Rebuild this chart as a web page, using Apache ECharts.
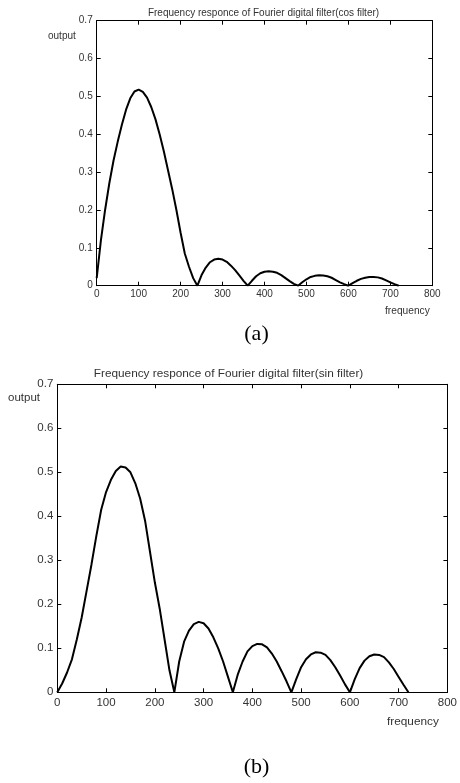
<!DOCTYPE html>
<html>
<head>
<meta charset="utf-8">
<script src="https://cdn.jsdelivr.net/npm/echarts@6/dist/echarts.min.js"></script>
<style>
html,body{margin:0;padding:0;background:#fff;}
#chart{width:460px;height:783px;}
</style>
</head>
<body>
<div id="chart"></div>
<script>
const freq = [0,10,20,30,40,50,60,70,80,90,100,110,120,130,140,150,160,170,180,190,200,210,220,230,240,
  250,260,270,280,290,300,310,320,330,340,350,360,370,380,390,400,410,420,430,440,450,460,470,480,
  490,500,510,520,530,540,550,560,570,580,590,600,610,620,630,640,650,660,670,680,690,700,710,720];

const cosOutput = [0.02,0.12,0.20,0.27,0.33,0.38,0.425,0.465,0.495,0.513,0.518,0.512,0.497,0.472,0.44,0.40,0.355,0.305,0.255,0.20,0.14,0.085,0.05,0.02,0,
  0.028,0.048,0.062,0.069,0.071,0.069,0.063,0.053,0.041,0.027,0.013,0,
  0.013,0.025,0.033,0.037,0.038,0.037,0.034,0.028,0.020,0.012,0.005,0,
  0.009,0.017,0.023,0.026,0.0275,0.027,0.025,0.021,0.015,0.009,0.004,0,
  0.007,0.013,0.018,0.021,0.023,0.023,0.022,0.019,0.014,0.009,0.004,0];

const sinOutput = [0,0.02,0.045,0.075,0.12,0.17,0.23,0.29,0.355,0.415,0.455,0.483,0.503,0.513,0.511,0.50,0.475,0.44,0.39,0.32,0.25,0.19,0.12,0.05,0,
  0.07,0.115,0.14,0.155,0.16,0.157,0.145,0.125,0.10,0.07,0.035,0,
  0.04,0.07,0.093,0.105,0.11,0.109,0.102,0.088,0.07,0.048,0.025,0,
  0.03,0.057,0.075,0.086,0.091,0.09,0.085,0.073,0.057,0.038,0.018,0,
  0.03,0.055,0.072,0.082,0.086,0.085,0.08,0.068,0.053,0.035,0.017,0];

const titles = ['Frequency responce of Fourier digital filter(cos filter)','Frequency responce of Fourier digital filter(sin filter)'];
const captions = ['(a)','(b)'];
const xName = 'frequency';
const yName = 'output';

const chart = echarts.init(document.getElementById('chart'));
const font = 'Liberation Sans, Arial, sans-serif';
const serif = 'Liberation Serif, Times New Roman, serif';
const lineCol = '#000';
const labelCol = '#333';

function axesFor(gridIndex, fs, xm) {
  const common = {
    gridIndex: gridIndex,
    axisLine: {show: true, onZero: false, lineStyle: {color: lineCol, width: 1}},
    axisTick: {show: true, inside: true, length: 4, lineStyle: {color: lineCol}},
    splitLine: {show: false}
  };
  const xs = [
    Object.assign({}, common, {type: 'value', position: 'bottom', min: 0, max: 800, interval: 100,
      axisLabel: {show: true, color: labelCol, fontFamily: font, fontSize: fs, margin: xm}}),
    Object.assign({}, common, {type: 'value', position: 'top', min: 0, max: 800, interval: 100,
      axisLabel: {show: false}})
  ];
  const ys = [
    Object.assign({}, common, {type: 'value', position: 'left', min: 0, max: 0.7, interval: 0.1,
      axisLabel: {show: true, color: labelCol, fontFamily: font, fontSize: fs, margin: 4}}),
    Object.assign({}, common, {type: 'value', position: 'right', min: 0, max: 0.7, interval: 0.1,
      axisLabel: {show: false}})
  ];
  return {xs, ys};
}
const a0 = axesFor(0, 10, 4);
const a1 = axesFor(1, 11.5, 5);

function txt(s, x, y, f, align, col) {
  return {type: 'text', x: x, y: y, style: {text: s, font: f, fill: col || labelCol,
    textAlign: align || 'left', textVerticalAlign: 'middle'}};
}

chart.setOption({
  animation: false,
  backgroundColor: '#fff',
  grid: [
    {left: 96.7, right: 27.7, top: 20.7, bottom: 497.3},
    {left: 57.3, right: 10, top: 384.3, bottom: 90.7}
  ],
  xAxis: [a0.xs[0], a0.xs[1], a1.xs[0], a1.xs[1]],
  yAxis: [a0.ys[0], a0.ys[1], a1.ys[0], a1.ys[1]],
  graphic: [
    txt(titles[0], 263.5, 13, '10px ' + font, 'center'),
    txt(titles[1], 228.5, 374, '11.8px ' + font, 'center'),
    txt(yName, 48, 36, '10px ' + font),
    txt(xName, 385, 311, '10.2px ' + font),
    txt(captions[0], 256.5, 334, '22px ' + serif, 'center', '#000'),
    txt(yName, 8, 398, '11.5px ' + font),
    txt(xName, 387, 722, '11.8px ' + font),
    txt(captions[1], 256.5, 767.5, '22px ' + serif, 'center', '#000')
  ],
  series: [
    {type: 'line', xAxisIndex: 0, yAxisIndex: 0, showSymbol: false, symbol: 'none',
      lineStyle: {color: '#000', width: 2}, data: freq.map((f, i) => [f, cosOutput[i]])},
    {type: 'line', xAxisIndex: 2, yAxisIndex: 2, showSymbol: false, symbol: 'none',
      lineStyle: {color: '#000', width: 2}, data: freq.map((f, i) => [f, sinOutput[i]])}
  ]
});
</script>
</body>
</html>
